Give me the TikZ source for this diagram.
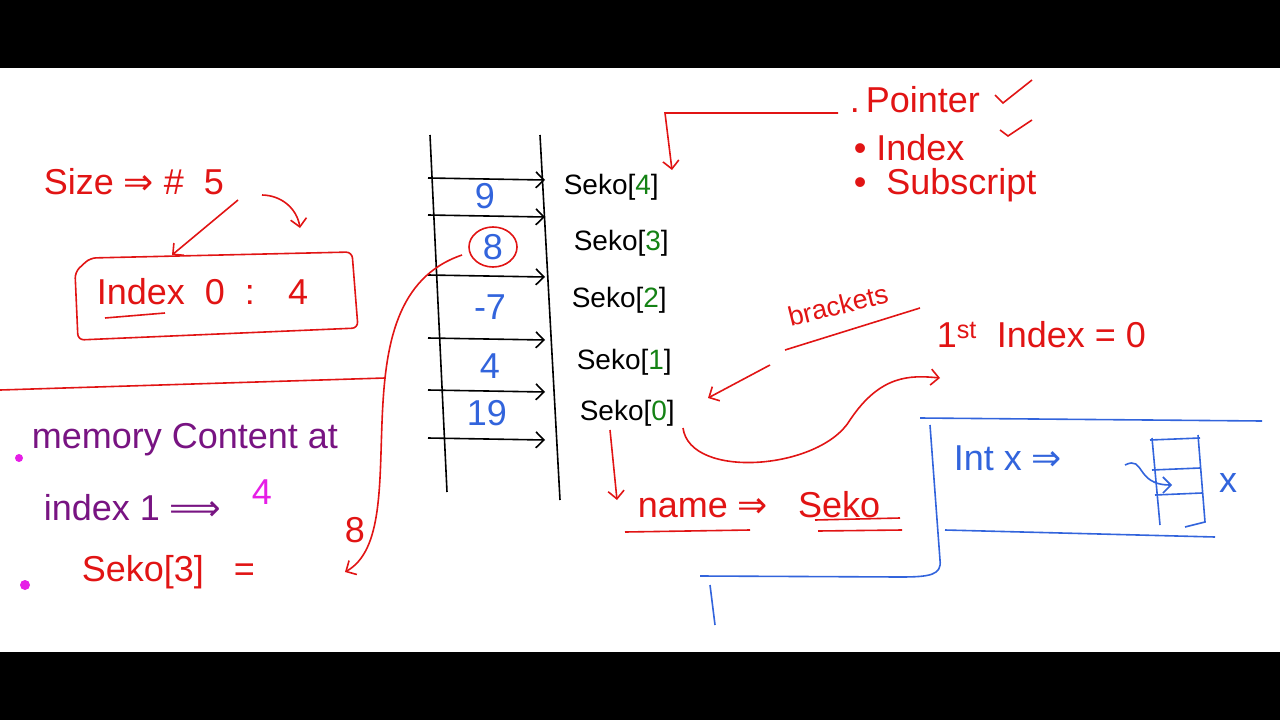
\documentclass[tikz,border=0pt]{standalone}
\usepackage{fontspec}
\setmainfont{Liberation Sans}
\newfontfamily\djv{DejaVu Sans}
\usetikzlibrary{arrows.meta}
\definecolor{rd}{RGB}{225,20,20}
\definecolor{bl}{RGB}{50,100,220}
\definecolor{gr}{RGB}{20,130,20}
\definecolor{pu}{RGB}{120,20,130}
\definecolor{mg}{RGB}{230,30,230}
\newcommand{\RA}{{\djv ⇒}}
\newcommand{\LRA}{{\djv ⟹}}
\begin{document}
\begin{tikzpicture}[x=1pt,y=-1pt,line width=1.6pt,
 txt/.style={inner sep=1pt,font=\fontsize{36}{36}\selectfont},
 lab/.style={inner sep=1pt,font=\fontsize{28}{28}\selectfont},
 arr/.style={-{Straight Barb[length=8pt]}}]
\useasboundingbox (0,0) rectangle (1280,720);
\fill[black] (0,0) rectangle (1280,68);
\fill[black] (0,652) rectangle (1280,720);
% top-left
\node[txt,text=rd,anchor=west] (size) at (42,182) {Size \RA\ \# \ 5};
\coordinate (five) at (238,200);
\coordinate (fa) at (172,255);
\coordinate (fb) at (300,228);
\draw[rd,arr] (five) -- (fa);
\draw[rd,arr] (262,195) to[bend left=40] (fb);
\draw[rd,rounded corners=6pt] (75,272) -- (78,340) -- (358,328) -- (352,252) -- (90,258) -- cycle;
\node[txt,text=rd,anchor=west] (idx0) at (95,292) {Index \ 0 \ : \ \ 4};
\draw[rd] (105,318) -- (165,313);
\draw[rd] (0,390) -- (385,378);
\node[txt,text=pu,anchor=west] (mem) at (30,440) {memory Content at};
\fill[mg] (19,458) circle (4);
\node[txt,text=pu,anchor=west] (ind1) at (42,508) {index 1 \LRA};
\node[txt,text=mg] (four) at (262,492) {4};
\fill[mg] (25,585) circle (5);
\node[txt,text=rd,anchor=west] (sk3) at (80,572) {Seko[3] \ \ =};
\node[txt,text=rd] (eight) at (355,530) {8};
\coordinate (tip) at (345,572);
% ladder
\draw (430,135) -- (447,492);
\draw (540,135) -- (560,500);
\foreach \y in {178,215,275,338,390,438}{\draw[arr] (428,\y) -- (545,\y+2);}
\node[txt,text=bl] (v4) at (485,196) {9};
\node[txt,text=bl] (v3) at (493,247) {8};
\node[txt,text=bl] (v2) at (490,307) {-7};
\node[txt,text=bl] (v1) at (490,366) {4};
\node[txt,text=bl] (v0) at (487,413) {19};
\draw[rd] (v3) ellipse (24 and 20);
\draw[rd,arr] (462,255) .. controls (330,300) and (420,530) .. (tip);
\node[lab,anchor=west] (s4) at (562,187) {Seko[\textcolor{gr}{4}]};
\node[lab,anchor=west] (s3) at (572,243) {Seko[\textcolor{gr}{3}]};
\node[lab,anchor=west] (s2) at (570,300) {Seko[\textcolor{gr}{2}]};
\node[lab,anchor=west] (s1) at (575,362) {Seko[\textcolor{gr}{1}]};
\node[lab,anchor=west] (s0) at (578,413) {Seko[\textcolor{gr}{0}]};
% top-right list
\node[txt,text=rd,anchor=west] (ptr) at (848,100) {.\,Pointer};
\node[txt,text=rd,anchor=west] (ind) at (852,148) {•\ Index};
\node[txt,text=rd,anchor=west] (sub) at (852,185) {•\ \ Subscript};
\draw[rd] (995,95) -- (1003,103) -- (1032,80);
\draw[rd] (1000,130) -- (1008,136) -- (1032,120);
\draw[rd,arr] (838,113) -- (665,113) -- (672,170);
% brackets
\node[txt,text=rd,rotate=14,font=\fontsize{27}{27}\selectfont] (brk) at (838,305) {brackets};
\draw[rd] (785,350) -- (920,308);
\draw[rd,arr] (770,365) -- (708,398);
\node[txt,text=rd,anchor=west] (first) at (935,335) {1$^{\mathrm{st}}$\ \ Index = 0};
\draw[rd,arr] (683,428) .. controls (690,480) and (820,470) .. (850,420) .. controls (880,375) and (910,375) .. (940,378);
\draw[rd,arr] (610,430) -- (617,500);
\node[txt,text=rd,anchor=west] (name) at (636,505) {name \RA\ \ \ Seko};
\draw[rd] (625,532) -- (750,530);
\draw[rd] (815,520) -- (900,518);
\draw[rd] (818,531) -- (902,530);
% blue
\draw[bl] (920,418) -- (1262,421);
\draw[bl] (930,425) -- (940,560) .. controls (942,575) and (930,577) .. (900,577) -- (700,576);
\draw[bl] (710,585) -- (715,625);
\draw[bl] (945,530) -- (1215,537);
\node[txt,text=bl,anchor=west] (intx) at (952,458) {Int\ x \RA};
\draw[bl] (1152,438) -- (1160,525);
\draw[bl] (1198,435) -- (1205,522) -- (1185,527);
\draw[bl] (1150,440) -- (1200,438);
\draw[bl] (1152,470) -- (1200,468);
\draw[bl] (1155,495) -- (1202,493);
\draw[bl,arr] (1125,465) .. controls (1145,455) and (1135,485) .. (1172,485);
\node[txt,text=bl] (xl) at (1228,483) {x};
\end{tikzpicture}
\end{document}
